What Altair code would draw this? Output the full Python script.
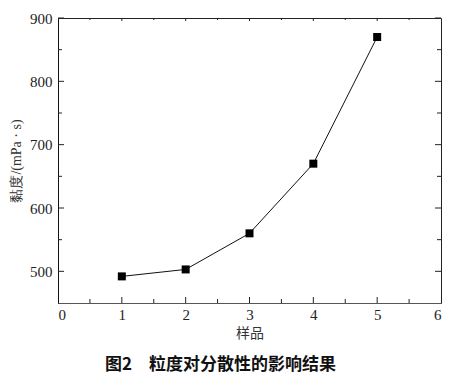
import altair as alt
import pandas as pd

samples = [1, 2, 3, 4, 5]
viscosity = [492, 503, 560, 670, 870]

y_major = [500, 600, 700, 800, 900]
y_minor = [550, 650, 750, 850]
x_major = [0, 1, 2, 3, 4, 5, 6]
x_minor = [0.5, 1.5, 2.5, 3.5, 4.5, 5.5]

df = pd.DataFrame({"x": samples, "y": viscosity})

xs = alt.Scale(domain=[0, 6], nice=False, zero=False)
ys = alt.Scale(domain=[450, 900], nice=False, zero=False)

serif = "'Liberation Serif', 'Times New Roman', serif"
cjk = "Noto Sans CJK SC"

base = alt.Chart(df)

line = base.mark_line(color="#111", strokeWidth=1).encode(
    x=alt.X("x:Q", scale=xs,
            axis=alt.Axis(values=x_major, format="d", tickSize=0, domainColor="#555",
                          labelFont=serif, labelFontSize=15, labelColor="#222",
                          labelPadding=4, grid=False,
                          title="样品", titleFont=cjk, titleFontSize=14,
                          titleFontWeight="normal", titleColor="#333", titlePadding=4)),
    y=alt.Y("y:Q", scale=ys,
            axis=alt.Axis(values=y_major, format="d", tickSize=0, domainColor="#111",
                          labelFont=serif, labelFontSize=15, labelColor="#222",
                          labelPadding=6, grid=False,
                          title="黏度/(mPa · s)", titleFont=serif, titleFontSize=14,
                          titleFontWeight="normal", titleColor="#333", titlePadding=6)),
)
pts = base.mark_point(shape="square", filled=True, size=64, color="#000", opacity=1).encode(
    x=alt.X("x:Q", scale=xs), y=alt.Y("y:Q", scale=ys)
)

def yticks(vals, length, side):
    d = pd.DataFrame({"v": vals})
    if side == "left":
        xe = dict(x=alt.value(0), x2=alt.value(length))
    else:
        xe = dict(x=alt.value(383), x2=alt.value(383 - length))
    return alt.Chart(d).mark_rule(color="#222", strokeWidth=1).encode(
        y=alt.Y("v:Q", scale=ys), **xe)

def xticks(vals, length, side):
    d = pd.DataFrame({"v": vals})
    if side == "bottom":
        ye = dict(y=alt.value(285), y2=alt.value(285 - length))
    else:
        ye = dict(y=alt.value(0), y2=alt.value(length))
    return alt.Chart(d).mark_rule(color="#222", strokeWidth=1).encode(
        x=alt.X("v:Q", scale=xs), **ye)

ticks = [
    yticks(y_major, 6, "left"), yticks(y_minor, 4, "left"),
    yticks(y_major, 6, "right"), yticks(y_minor, 4, "right"),
    xticks(x_major[1:-1], 6, "bottom"), xticks(x_minor, 4, "bottom"),
    xticks(x_major[1:-1], 3, "top"), xticks(x_minor, 2, "top"),
]

chart = alt.layer(*ticks, line, pts).properties(
    width=383, height=285,
    autosize=alt.AutoSizeParams(type="none"),
    padding={"left": 50, "top": 10, "right": 5, "bottom": 73},
    title=alt.TitleParams("图2　粒度对分散性的影响结果", orient="bottom", anchor="middle",
                          font=cjk, fontSize=17, fontWeight="bold", color="#111",
                          offset=17, dx=-29),
).configure_view(stroke="#222", strokeWidth=1)

chart.save("out.html", embed_options={"renderer": "svg", "actions": False})
